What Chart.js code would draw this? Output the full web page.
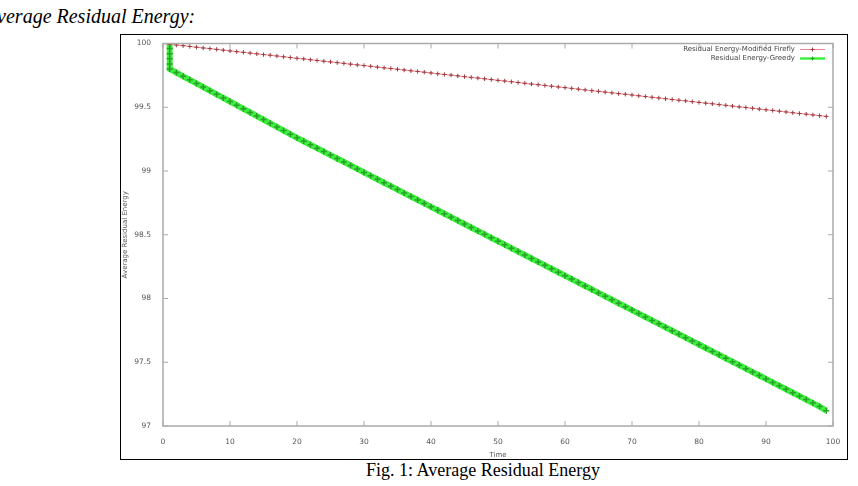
<!DOCTYPE html>
<html>
<head>
<meta charset="utf-8">
<script src="https://cdn.jsdelivr.net/npm/chart.js@4.4.1/dist/chart.umd.min.js"></script>
<style>
  body { margin: 0; width: 858px; height: 486px; background: #fff; position: relative; overflow: hidden; }
  #heading { position: absolute; left: -14px; top: 5px; font: italic 20px "Liberation Serif", serif; color: #000; white-space: nowrap; }
  #box { position: absolute; left: 120px; top: 34px; width: 726px; height: 424px; border: 1.5px solid #000; }
  #caption { position: absolute; left: 0; width: 966px; top: 460px; text-align: center; font: 18px "Liberation Serif", serif; color: #000; }
</style>
</head>
<body>
<div id="heading">Average Residual Energy:</div>
<div id="box"><canvas id="out" width="726" height="424"></canvas></div>
<div id="caption">Fig. 1: Average Residual Energy</div>
<script>
const xTicks = [0, 10, 20, 30, 40, 50, 60, 70, 80, 90, 100];
const yTicks = [97, 97.5, 98, 98.5, 99, 99.5, 100];

const fireflyLabel = "Residual Energy-Modified Firefly";
const fireflyTime = [];
for (var t = 0; t < 100; t++) fireflyTime.push(t);
const fireflyEnergy = [
  100.000, 99.994, 99.988, 99.983, 99.977, 99.971, 99.965, 99.960, 99.954, 99.948,
  99.942, 99.936, 99.931, 99.925, 99.919, 99.913, 99.908, 99.902, 99.896, 99.890,
  99.884, 99.879, 99.873, 99.867, 99.861, 99.856, 99.850, 99.844, 99.838, 99.832,
  99.827, 99.821, 99.815, 99.809, 99.804, 99.798, 99.792, 99.786, 99.781, 99.775,
  99.769, 99.763, 99.757, 99.752, 99.746, 99.740, 99.734, 99.729, 99.723, 99.717,
  99.711, 99.706, 99.700, 99.694, 99.688, 99.682, 99.677, 99.671, 99.665, 99.659,
  99.654, 99.648, 99.642, 99.636, 99.630, 99.625, 99.619, 99.613, 99.607, 99.602,
  99.596, 99.590, 99.584, 99.578, 99.573, 99.567, 99.561, 99.555, 99.550, 99.544,
  99.538, 99.532, 99.527, 99.521, 99.515, 99.509, 99.503, 99.498, 99.492, 99.486,
  99.480, 99.475, 99.469, 99.463, 99.457, 99.451, 99.446, 99.440, 99.434, 99.428
];

const greedyLabel = "Residual Energy-Greedy";
const greedyTime = [1, 1, 1, 1, 1];
for (var g = 1; g < 100; g++) greedyTime.push(g);
const greedyEnergy = [
  100.000, 99.960, 99.920, 99.880, 99.840,
  99.800, 99.772, 99.743, 99.715, 99.687, 99.658, 99.630, 99.601, 99.573, 99.545,
  99.516, 99.488, 99.459, 99.431, 99.403, 99.374, 99.346, 99.317, 99.289, 99.260,
  99.233, 99.206, 99.179, 99.152, 99.125, 99.098, 99.071, 99.044, 99.016, 98.989,
  98.962, 98.935, 98.908, 98.881, 98.854, 98.827, 98.800, 98.773, 98.746, 98.719,
  98.692, 98.665, 98.638, 98.611, 98.584, 98.557, 98.530, 98.503, 98.476, 98.449,
  98.422, 98.395, 98.368, 98.341, 98.314, 98.287, 98.260, 98.233, 98.206, 98.179,
  98.152, 98.125, 98.098, 98.071, 98.044, 98.017, 97.990, 97.963, 97.936, 97.909,
  97.882, 97.855, 97.828, 97.801, 97.774, 97.747, 97.720, 97.693, 97.666, 97.639,
  97.612, 97.585, 97.558, 97.531, 97.504, 97.477, 97.450, 97.423, 97.396, 97.369,
  97.342, 97.315, 97.288, 97.261, 97.234, 97.207, 97.180, 97.153, 97.120
];

function toPoints(xs, ys) {
  return xs.map(function (x, i) { return { x: x, y: ys[i] }; });
}

const tickColor = "#555";
const frameColor = "#aaa";

// gnuplot-like frame: grey border, ticks pointing inward on all four sides, legend in the corner
const framePlugin = {
  id: "frame",
  afterDatasetsDraw(chart) {
    const ctx = chart.ctx;
    const a = chart.chartArea;
    const xs = chart.scales.x, ys = chart.scales.y;
    ctx.save();
    ctx.strokeStyle = frameColor;
    ctx.lineWidth = 1.5;
    ctx.strokeRect(a.left, a.top, a.right - a.left, a.bottom - a.top);
    ctx.lineWidth = 1;
    ctx.beginPath();
    xTicks.forEach(function (v) {
      const px = xs.getPixelForValue(v);
      ctx.moveTo(px, a.bottom); ctx.lineTo(px, a.bottom - 5);
      ctx.moveTo(px, a.top); ctx.lineTo(px, a.top + 5);
    });
    yTicks.forEach(function (v) {
      const py = ys.getPixelForValue(v);
      ctx.moveTo(a.left, py); ctx.lineTo(a.left + 5, py);
      ctx.moveTo(a.right, py); ctx.lineTo(a.right - 5, py);
    });
    ctx.stroke();

    // legend
    ctx.font = "7px 'DejaVu Sans', sans-serif";
    ctx.textAlign = "right";
    ctx.textBaseline = "middle";
    chart.data.datasets.forEach(function (ds, i) {
      const y = a.top + 6 + i * 9;
      const xr = a.right - 38;
      ctx.fillStyle = "#444";
      ctx.fillText(ds.label, xr, y);
      ctx.strokeStyle = ds.borderColor;
      ctx.lineWidth = i === 0 ? 1 : 2.5;
      ctx.beginPath();
      ctx.moveTo(xr + 5, y); ctx.lineTo(xr + 30, y);
      ctx.stroke();
      ctx.strokeStyle = ds.pointBorderColor;
      ctx.lineWidth = 1;
      ctx.beginPath();
      ctx.moveTo(xr + 15.5, y); ctx.lineTo(xr + 19.5, y);
      ctx.moveTo(xr + 17.5, y - 2); ctx.lineTo(xr + 17.5, y + 2);
      ctx.stroke();
    });
    ctx.restore();
  }
};

const chartConfig = {
  type: "scatter",
  data: {
    datasets: [
      {
        label: fireflyLabel,
        data: toPoints(fireflyTime, fireflyEnergy),
        showLine: true,
        borderColor: "rgba(235, 120, 130, 0.9)",
        borderWidth: 1,
        pointStyle: "cross",
        pointRadius: 2.2,
        pointBorderWidth: 1,
        pointBorderColor: "#9c3b40",
        pointBackgroundColor: "#9c3b40"
      },
      {
        label: greedyLabel,
        data: toPoints(greedyTime, greedyEnergy),
        showLine: true,
        borderColor: "#3ef03e",
        borderWidth: 6,
        pointStyle: "cross",
        pointRadius: 3,
        pointBorderWidth: 1.5,
        pointBorderColor: "#2a9e2a",
        pointBackgroundColor: "#2a9e2a"
      }
    ]
  },
  options: {
    responsive: false,
    animation: false,
    layout: { padding: { top: 6, right: 14, left: 0, bottom: 0 } },
    plugins: { legend: { display: false }, tooltip: { enabled: false } },
    scales: {
      x: {
        type: "linear",
        min: 0, max: 100,
        afterBuildTicks: function (scale) { scale.ticks = xTicks.map(function (v) { return { value: v }; }); },
        afterFit: function (scale) { scale.height = 33; },
        grid: { display: false },
        border: { display: false },
        ticks: { color: tickColor, font: { size: 7.5, family: "DejaVu Sans" }, padding: 4, maxRotation: 0 },
        title: { display: true, text: "Time", color: tickColor, font: { size: 7, family: "DejaVu Sans" }, padding: { top: 1, bottom: 0 } }
      },
      y: {
        type: "linear",
        min: 97, max: 100,
        afterBuildTicks: function (scale) { scale.ticks = yTicks.map(function (v) { return { value: v }; }); },
        afterFit: function (scale) { scale.width = 42; },
        grid: { display: false },
        border: { display: false },
        ticks: { color: tickColor, font: { size: 7.5, family: "DejaVu Sans" }, padding: 4, callback: function (v) { return String(v); } },
        title: { display: true, text: "Average Residual Energy", color: tickColor, font: { size: 7, family: "DejaVu Sans" }, padding: { top: 0, bottom: 0 } }
      }
    }
  },
  plugins: [framePlugin]
};

window.chart = new Chart(document.getElementById("out").getContext("2d"), chartConfig);
</script>
</body>
</html>
